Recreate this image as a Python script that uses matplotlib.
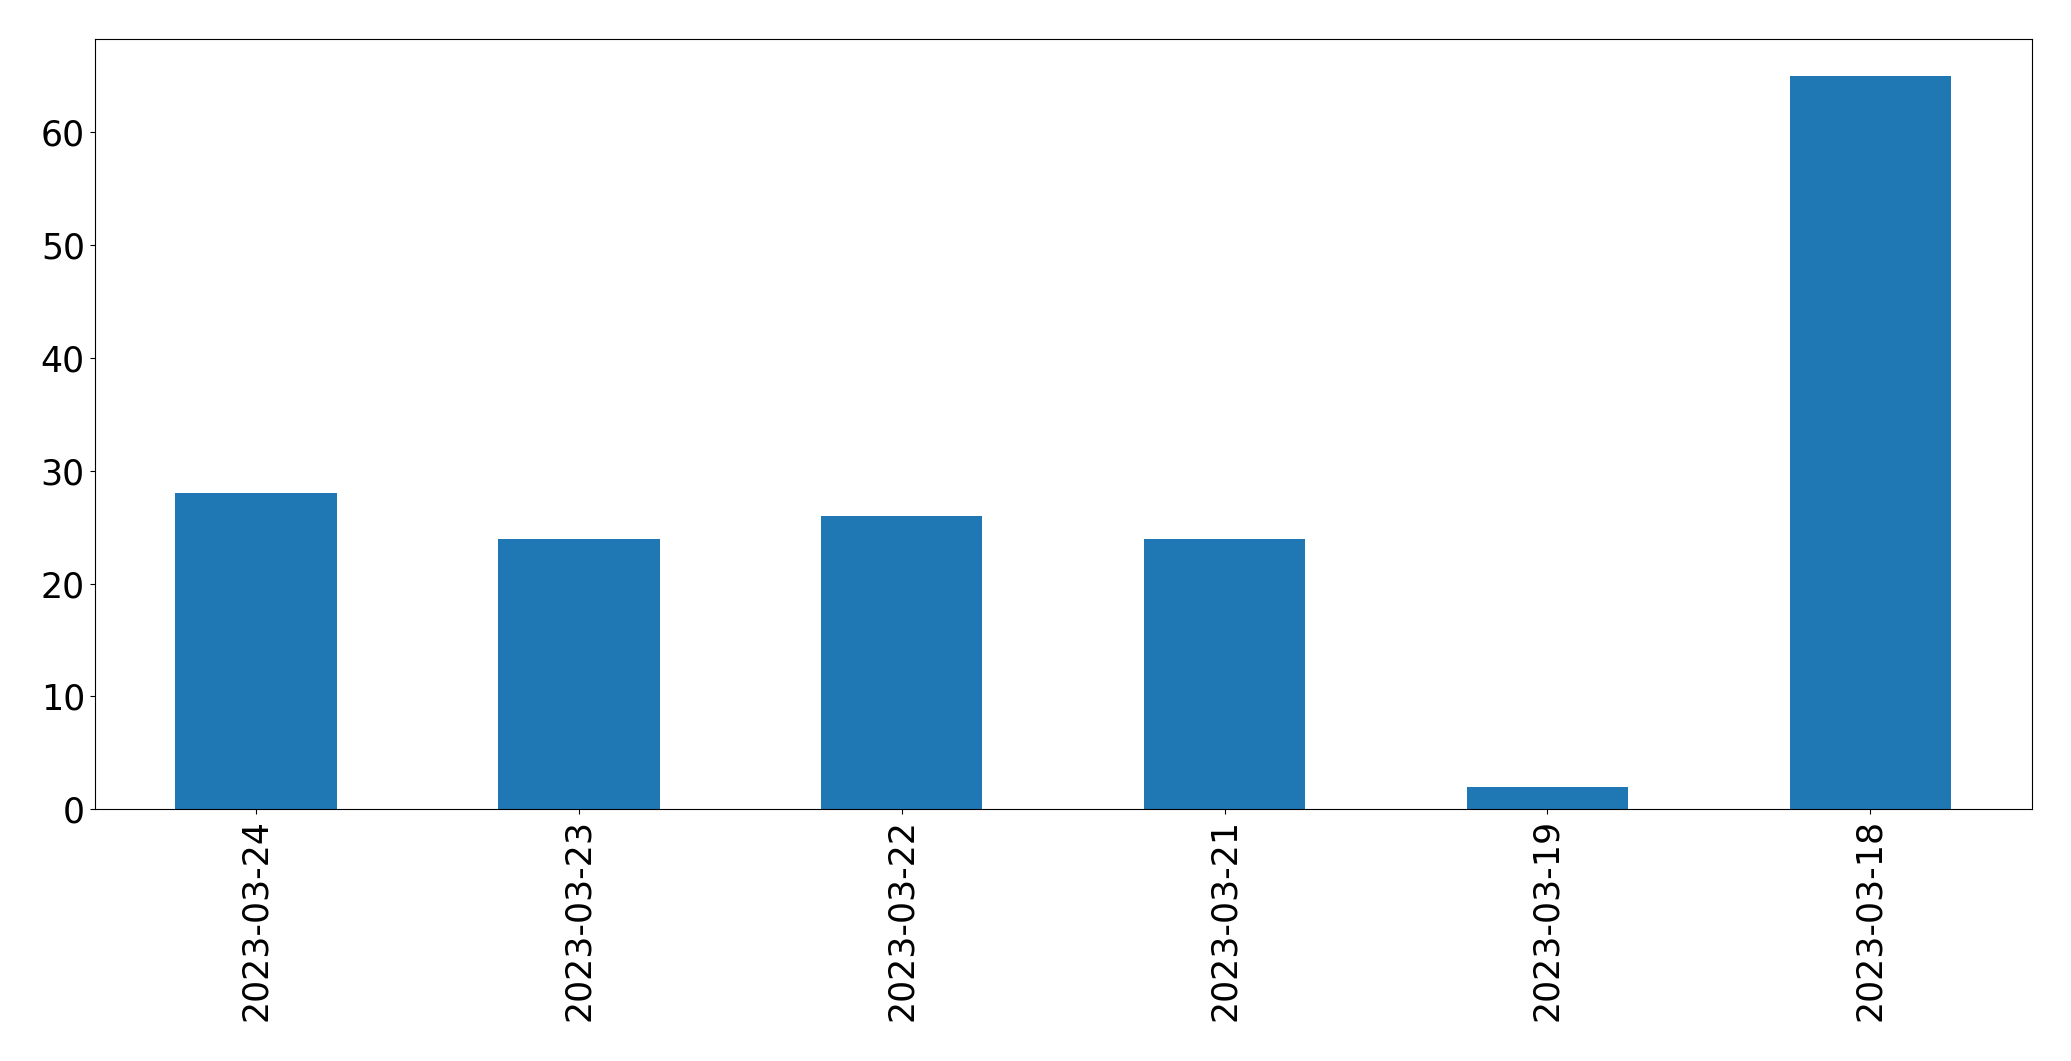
import pandas as pd
import matplotlib
matplotlib.use("Agg")
import matplotlib.pyplot as plt

# daily counts, newest first (as in the source)
fechas = ["2023-03-24", "2023-03-23", "2023-03-22", "2023-03-21", "2023-03-19", "2023-03-18"]
conteos = [28, 24, 26, 24, 2, 65]

serie = pd.Series(conteos, index=fechas)

fig, ax = plt.subplots(figsize=(20.71, 10.61), dpi=100)
fig.subplots_adjust(left=0.0457, right=0.981, top=0.963, bottom=0.2372)

serie.plot(kind="bar", ax=ax, color="#1f77b4", fontsize=25)

plt.savefig("out.png", dpi=100)
